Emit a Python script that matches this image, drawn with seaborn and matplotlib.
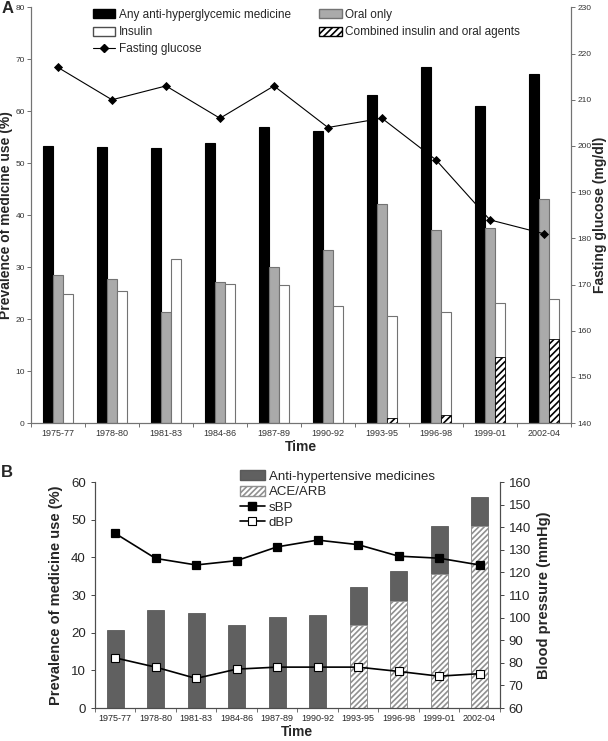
import numpy as np
import pandas as pd
import seaborn as sns
import matplotlib.pyplot as plt
from matplotlib.patches import Patch
from matplotlib.lines import Line2D

#--------------------------------------------------------------------------------------------------
# data

periods = ['1975-77', '1978-80', '1981-83', '1984-86', '1987-89',
           '1990-92', '1993-95', '1996-98', '1999-01', '2002-04']

# panel A - anti-hyperglycemic medicine (%), fasting glucose (mg/dl)
any_med = [53.3, 53.1, 52.9, 54.0, 57.0, 56.3, 63.2, 68.6, 61.0, 67.2]
oral_only = [28.5, 27.8, 21.3, 27.2, 30.0, 33.4, 42.1, 37.1, 37.6, 43.2]
insulin = [24.8, 25.4, 31.5, 26.7, 26.6, 22.6, 20.7, 21.4, 23.2, 23.9]
combined = [0, 0, 0, 0, 0, 0, 0.9, 1.5, 12.8, 16.1]
glucose = [217, 210, 213, 206, 213, 204, 206, 197, 184, 181]

# panel B - anti-hypertensive medicine (%), blood pressure (mmHg)
antihyp = [20.6, 26.1, 25.2, 22.1, 24.1, 24.8, 32.0, 36.4, 48.4, 55.9]
ace_arb = [0, 0, 0, 0, 0, 0, 22.1, 28.3, 35.7, 48.3]
sbp = [137.3, 126.2, 123.3, 125.2, 131.3, 134.3, 132.3, 127.2, 126.3, 123.3]
dbp = [82.2, 78.1, 73.1, 77.2, 78.1, 78.1, 78.1, 76.2, 74.1, 75.2]

series_a = ['Any anti-hyperglycemic medicine', 'Oral only', 'Insulin']

#--------------------------------------------------------------------------------------------------

sns.set_style('ticks')
plt.rcParams['font.family'] = ['Liberation Sans', 'DejaVu Sans']
plt.rcParams['hatch.linewidth'] = 1.2
narrow = ['Liberation Sans Narrow', 'Liberation Sans', 'DejaVu Sans']

fig = plt.figure(figsize=(6.08, 7.41), dpi=100)

#--------------------------------------------------------------------------------------------------
# panel A

df_a = pd.DataFrame({
    'period': periods * 3,
    'value': any_med + oral_only + insulin,
    'series': [s for s in series_a for _ in periods],
})
# combined users sit inside the insulin bar, so only the insulin slot gets values
df_c = pd.DataFrame({
    'period': periods * 3,
    'value': [0] * 20 + combined,
    'series': [s for s in series_a for _ in periods],
})

ax = fig.add_axes([0.051, 0.429, 0.888, 0.561])
sns.barplot(x='period', y='value', hue='series', data=df_a, order=periods,
            hue_order=series_a, width=0.56, errorbar=None, ax=ax,
            palette={'Any anti-hyperglycemic medicine': 'black',
                     'Oral only': '#aaaaaa', 'Insulin': 'white'},
            edgecolor='0.45', linewidth=0.8, legend=False)
for bar in ax.containers[0]:
    bar.set_edgecolor('black')

sns.barplot(x='period', y='value', hue='series', data=df_c, order=periods,
            hue_order=series_a, width=0.56, errorbar=None, ax=ax,
            palette={'Any anti-hyperglycemic medicine': 'white',
                     'Oral only': 'white', 'Insulin': 'white'},
            edgecolor='black', linewidth=0.6, hatch='/////', legend=False)
for cont in ax.containers[3:]:
    for bar in cont:
        if bar.get_height() <= 0:
            bar.set_visible(False)

ax.set_ylim(0, 80)
ax.set_yticks(range(0, 81, 10))
ax.set_xlabel('Time', fontsize=10, fontweight='bold', labelpad=2)
ax.set_ylabel('Prevalence of medicine use (%)', fontsize=10, fontweight='bold')
ax.yaxis.set_label_coords(-0.033, 0.5)
ax.tick_params(axis='y', labelsize=6, colors='0.35', length=3, width=0.6, pad=1.5)
ax.tick_params(axis='x', which='major', labelsize=6.5, length=0, pad=4)
ax.set_xticks(np.arange(-0.5, 10), minor=True)
ax.tick_params(axis='x', which='minor', length=3, width=0.6, color='0.35')

ax2 = ax.twinx()
sns.pointplot(x=periods, y=glucose, ax=ax2, color='black', markers='D',
              markersize=4, linewidth=0.8, errorbar=None)
ax2.set_ylim(140, 230)
ax2.set_yticks(range(140, 231, 10))
ax2.set_ylabel('Fasting glucose (mg/dl)', fontsize=10, fontweight='bold')
ax2.yaxis.set_label_coords(1.04, 0.5)
ax2.tick_params(axis='y', labelsize=6, colors='0.35', length=3, width=0.6, pad=1.5)
for a in (ax, ax2):
    a.spines['top'].set_visible(False)
    for s in ('left', 'right', 'bottom'):
        a.spines[s].set_color('0.45')
        a.spines[s].set_linewidth(0.8)
for lab in ax.get_yticklabels() + ax2.get_yticklabels() + ax.get_xticklabels():
    lab.set_color('0.2')
    lab.set_family(narrow)

handles_a = [
    Patch(facecolor='black', edgecolor='black', label='Any anti-hyperglycemic medicine'),
    Patch(facecolor='white', edgecolor='0.3', label='Insulin'),
    Line2D([], [], color='black', lw=0.8, marker='D', markersize=4, label='Fasting glucose'),
    Patch(facecolor='#aaaaaa', edgecolor='0.45', label='Oral only'),
    Patch(facecolor='white', edgecolor='black', hatch='/////', label='Combined insulin and oral agents'),
]
ax2.legend(handles=handles_a, ncol=2, loc='upper left', bbox_to_anchor=(0.106, 1.008),
           frameon=False, fontsize=8.5, handlelength=1.9, handleheight=0.8,
           labelspacing=0.45, handletextpad=0.3, columnspacing=2.4, borderaxespad=0)

#--------------------------------------------------------------------------------------------------
# panel B

bx = fig.add_axes([0.156, 0.0445, 0.666, 0.305])
sns.barplot(x=periods, y=antihyp, order=periods, color='#606060', width=0.42,
            edgecolor='#5a5a5a', linewidth=0.6, errorbar=None, ax=bx)
sns.barplot(x=periods, y=ace_arb, order=periods, color='white', width=0.42,
            edgecolor='#909090', linewidth=0.6, hatch='//////', errorbar=None, ax=bx)
for bar in bx.containers[-1]:
    if bar.get_height() <= 0:
        bar.set_visible(False)

bx.set_ylim(0, 60)
bx.set_yticks(range(0, 61, 10))
bx.set_xlabel('Time', fontsize=10, fontweight='bold', labelpad=2)
bx.set_ylabel('Prevalence of medicine use (%)', fontsize=10.5, fontweight='bold', labelpad=6)
bx.tick_params(axis='y', labelsize=9.5, length=3, width=0.6)
bx.tick_params(axis='x', which='major', labelsize=6.5, length=0, pad=4)
bx.set_xticks(np.arange(-0.5, 10), minor=True)
bx.tick_params(axis='x', which='minor', length=3, width=0.6, color='0.35')
for lab in bx.get_xticklabels():
    lab.set_family(narrow)

bx2 = bx.twinx()
sns.pointplot(x=periods, y=sbp, ax=bx2, color='black', markers='s',
              markersize=6, linewidth=1.2, errorbar=None)
sns.pointplot(x=periods, y=dbp, ax=bx2, color='black', markers='s',
              markersize=6, linewidth=1.2, errorbar=None,
              markerfacecolor='white', markeredgewidth=0.8)
bx2.set_ylim(60, 160)
bx2.set_yticks(range(60, 161, 10))
bx2.set_ylabel('Blood pressure (mmHg)', fontsize=10.5, fontweight='bold', labelpad=4)
bx2.tick_params(axis='y', labelsize=9.5, length=3, width=0.6)
for a in (bx, bx2):
    a.spines['top'].set_visible(False)
    for s in ('left', 'right', 'bottom'):
        a.spines[s].set_color('0.3')
        a.spines[s].set_linewidth(0.8)

handles_b = [
    Patch(facecolor='#606060', edgecolor='#5a5a5a', label='Anti-hypertensive medicines'),
    Patch(facecolor='white', edgecolor='#909090', hatch='//////', label='ACE/ARB'),
    Line2D([], [], color='black', lw=1.2, marker='s', markersize=6, label='sBP'),
    Line2D([], [], color='black', lw=1.2, marker='s', markersize=6,
           markerfacecolor='white', markeredgewidth=0.8, label='dBP'),
]
bx2.legend(handles=handles_b, loc='upper left', bbox_to_anchor=(0.345, 1.075),
           frameon=False, fontsize=9.5, handlelength=1.9, handleheight=0.8,
           labelspacing=0.2, handletextpad=0.3, borderaxespad=0)

fig.text(0.002, 0.998, 'A', fontsize=12, fontweight='bold', va='top', ha='left')
fig.text(0.002, 0.372, 'B', fontsize=12, fontweight='bold', va='top', ha='left')

plt.savefig('out.png', dpi=100)
